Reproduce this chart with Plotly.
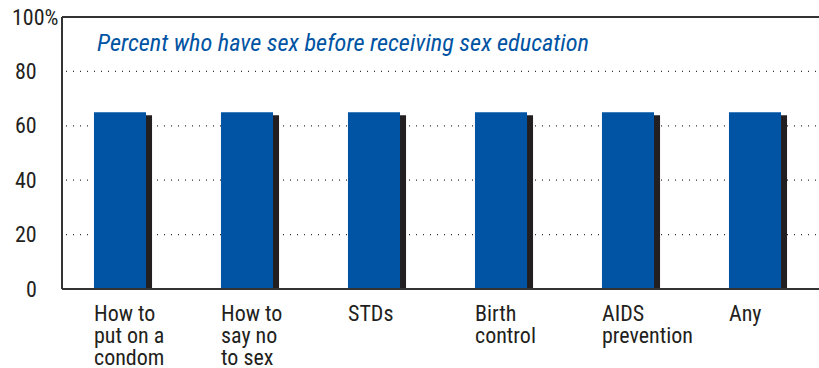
import plotly.graph_objects as go

categories = ["How to<br>put on a<br>condom", "How to<br>say no<br>to sex", "STDs", "Birth<br>control", "AIDS<br>prevention", "Any"]
values = [65, 65, 65, 65, 65, 65]
ytick_vals = [0, 20, 40, 60, 80, 100]
ytick_text = ["0", "20", "40", "60", "80", "100%"]
title_text = "Percent who have sex before receiving sex education"

W, H = 819, 368
L, R, T, B = 62, 0, 17, 79
PW = W - L - R
PH = H - T - B

FONT = "Roboto Condensed, DejaVu Sans Condensed, sans-serif"
BLUE = "#0054a3"
SHADOW = "#231f20"
TXT = "#231f20"
WGT = 400

xs = list(range(len(categories)))
bw = 0.41
dx = 6 / 127.0
dy = 3 / 2.72

fig = go.Figure()
fig.add_trace(go.Bar(x=[x + dx for x in xs], y=[v - dy for v in values], width=bw,
                     marker=dict(color=SHADOW, line=dict(width=0)), hoverinfo="skip"))
fig.add_trace(go.Bar(x=xs, y=values, width=bw,
                     marker=dict(color=BLUE, line=dict(width=0))))

x0 = -58 / 127.0
x1 = x0 + PW / 127.0

def px2paper(px):
    return (px - L) / PW

annotations = []
LINE_H = 22
for x, c in zip(xs, categories):
    for j, line in enumerate(c.split("<br>")):
        annotations.append(dict(x=x - bw / 2, y=0, xref="x", yref="paper", yanchor="middle", xanchor="left",
                                xshift=-2, yshift=-(24 + j * LINE_H), text=line, showarrow=False,
                                font=dict(family=FONT, size=22, color=TXT, weight=WGT)))
for v, t in zip(ytick_vals, ytick_text):
    if t.endswith("%"):
        annotations.append(dict(x=px2paper(10), y=v, xref="paper", yref="y", xanchor="left", yanchor="middle",
                                text=t, showarrow=False, font=dict(family=FONT, size=22, color=TXT, weight=WGT)))
    else:
        annotations.append(dict(x=px2paper(39), y=v, xref="paper", yref="y", xanchor="right", yanchor="middle",
                                text=t, showarrow=False, font=dict(family=FONT, size=22, color=TXT, weight=WGT)))
annotations.append(dict(x=px2paper(95), y=1 - 25 / PH, xref="paper", yref="paper", xanchor="left", yanchor="middle",
                        text="<i>" + title_text + "</i>", showarrow=False,
                        font=dict(family=FONT, size=24.3, color=BLUE, weight=WGT)))

shapes = []
for v in ytick_vals[1:-1]:
    shapes.append(dict(type="line", xref="paper", yref="y", x0=px2paper(66), x1=1, y0=v, y1=v,
                       line=dict(color="#333333", width=1.3, dash="1px,6px"), layer="below"))
shapes.append(dict(type="line", xref="paper", yref="paper", x0=0, x1=1, y0=1, y1=1,
                   line=dict(color="#333333", width=2)))
shapes.append(dict(type="line", xref="paper", yref="paper", x0=0, x1=0, y0=0, y1=1,
                   line=dict(color="#333333", width=2)))
shapes.append(dict(type="line", xref="paper", yref="paper", x0=0, x1=1, y0=0, y1=0,
                   line=dict(color="#333333", width=2)))

fig.update_layout(
    width=W, height=H, margin=dict(l=L, r=R, t=T, b=B),
    paper_bgcolor="white", plot_bgcolor="white",
    barmode="overlay", showlegend=False,
    xaxis=dict(range=[x0, x1], showticklabels=False, showgrid=False, zeroline=False, showline=False, ticks=""),
    yaxis=dict(range=[0, 100], showticklabels=False, showgrid=False, zeroline=False, showline=False, ticks=""),
    annotations=annotations, shapes=shapes,
)
fig.write_html("out.html")
